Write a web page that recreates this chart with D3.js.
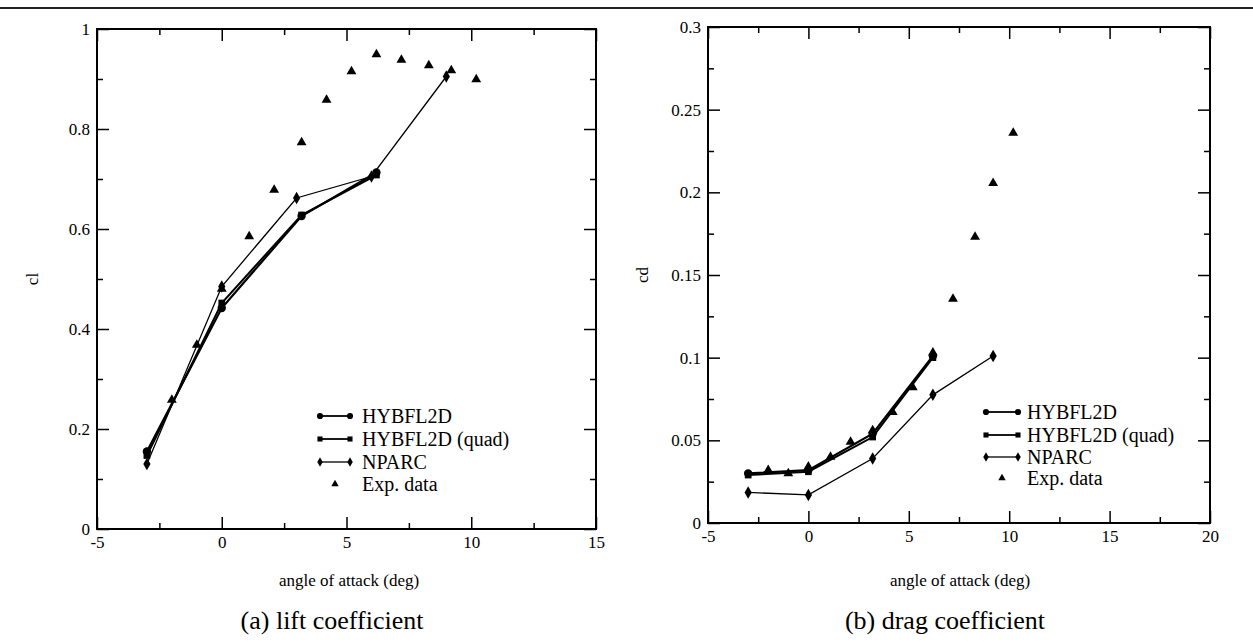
<!DOCTYPE html>
<html><head><meta charset="utf-8">
<script src="https://cdn.jsdelivr.net/npm/d3@7"></script>
<style>
body{margin:0;background:#fff;}
svg{display:block;}
text{font-family:"Liberation Serif","Times New Roman",Times,"DejaVu Serif",serif;fill:#000;}
</style>
</head><body>
<svg id="c" width="1253" height="644"></svg>
<script>
// ---------------- data ----------------
const seriesNames = ["HYBFL2D", "HYBFL2D (quad)", "NPARC", "Exp. data"];

const liftXTicks = [-5, 0, 5, 10, 15];
const liftXMinor = [-2.5, 2.5, 7.5, 12.5];
const liftYTicks = [0, 0.2, 0.4, 0.6, 0.8, 1];
const liftYMinor = [0.1, 0.3, 0.5, 0.7, 0.9];

const dragXTicks = [-5, 0, 5, 10, 15, 20];
const dragXMinor = [-2.5, 2.5, 7.5, 12.5, 17.5];
const dragYTicks = [0, 0.05, 0.1, 0.15, 0.2, 0.25, 0.3];
const dragYMinor = [0.025, 0.075, 0.125, 0.175, 0.225, 0.275];

const liftHybAoa  = [-3, 0, 3.2, 6.2];
const liftHybCl   = [0.155, 0.442, 0.626, 0.713];
const liftQuadAoa = [-3, 0, 3.2, 6.2];
const liftQuadCl  = [0.147, 0.452, 0.628, 0.708];
const liftNparcAoa = [-3, 0, 3, 6, 9];
const liftNparcCl  = [0.13, 0.485, 0.662, 0.705, 0.905];
const liftExpAoa = [-2, -1, 0, 1.1, 2.1, 3.2, 4.2, 5.2, 6.2, 7.2, 8.3, 9.2, 10.2];
const liftExpCl  = [0.258, 0.368, 0.48, 0.585, 0.678, 0.773, 0.858, 0.915, 0.949, 0.938, 0.927, 0.917, 0.899];

const dragHybAoa  = [-3, 0, 3.2, 6.2];
const dragHybCd   = [0.030, 0.032, 0.054, 0.101];
const dragQuadAoa = [-3, 0, 3.2, 6.2];
const dragQuadCd  = [0.029, 0.031, 0.052, 0.100];
const dragNparcAoa = [-3, 0, 3.2, 6.2, 9.2];
const dragNparcCd  = [0.0185, 0.017, 0.039, 0.0775, 0.101];
const dragExpAoa = [-2, -1, 0, 1.1, 2.1, 3.2, 4.2, 5.2, 6.2, 7.2, 8.3, 9.2, 10.2];
const dragExpCd  = [0.032, 0.030, 0.034, 0.040, 0.049, 0.056, 0.067, 0.082, 0.103, 0.1355, 0.173, 0.2055, 0.236];

// ---------------- drawing ----------------
const FONT = '"Liberation Serif","Times New Roman",Times,"DejaVu Serif",serif';
const svg = d3.select("#c").attr("font-family", FONT);
const zip = (a, b) => a.map((v, i) => [v, b[i]]);
const fmt = d => String(d);

svg.append("line").attr("x1", 0).attr("x2", 1253).attr("y1", 8).attr("y2", 8)
  .attr("stroke", "#222").attr("stroke-width", 2);

const styles = [
  {sym: d3.symbolCircle, size: 55, lw: 2.2, lsize: 30},
  {sym: d3.symbolSquare, size: 45, lw: 2.0, lsize: 26},
  {sym: d3.symbolDiamond, size: 45, lw: 1.3, lsize: 26},
  {sym: d3.symbolTriangle, size: 42, lw: 0, lsize: 24}
];

function panel(o) {
  const g = svg.append("g");
  const x = d3.scaleLinear().domain(o.xDomain).range(o.xRange);
  const y = d3.scaleLinear().domain(o.yDomain).range(o.yRange);
  const x0 = o.xRange[0], x1 = o.xRange[1], y0 = o.yRange[0], y1 = o.yRange[1];
  const MAJ = 12, MIN = 6;
  const clean = s => s.attr("font-family", FONT)
                      .call(a => a.select(".domain").remove())
                      .call(a => a.selectAll("line").attr("stroke", "#000").attr("stroke-width", 1.5));
  const lab = a => a.selectAll("text").attr("font-size", 17).attr("font-family", FONT);

  g.append("g").attr("transform", `translate(0,${y0})`)
    .call(d3.axisBottom(x).tickValues(o.xTicks).tickSize(-MAJ).tickPadding(7).tickFormat(fmt))
    .call(clean).call(lab);
  g.append("g").attr("transform", `translate(0,${y0})`)
    .call(d3.axisBottom(x).tickValues(o.xMinor).tickSize(-MIN).tickFormat("")).call(clean);
  g.append("g").attr("transform", `translate(0,${y1})`)
    .call(d3.axisTop(x).tickValues(o.xTicks).tickSize(-MAJ).tickFormat("")).call(clean);
  g.append("g").attr("transform", `translate(0,${y1})`)
    .call(d3.axisTop(x).tickValues(o.xMinor).tickSize(-MIN).tickFormat("")).call(clean);

  g.append("g").attr("transform", `translate(${x0},0)`)
    .call(d3.axisLeft(y).tickValues(o.yTicks).tickSize(-MAJ).tickPadding(7).tickFormat(fmt))
    .call(clean).call(lab);
  g.append("g").attr("transform", `translate(${x0},0)`)
    .call(d3.axisLeft(y).tickValues(o.yMinor).tickSize(-MIN).tickFormat("")).call(clean);
  g.append("g").attr("transform", `translate(${x1},0)`)
    .call(d3.axisRight(y).tickValues(o.yTicks).tickSize(-MAJ).tickFormat("")).call(clean);
  g.append("g").attr("transform", `translate(${x1},0)`)
    .call(d3.axisRight(y).tickValues(o.yMinor).tickSize(-MIN).tickFormat("")).call(clean);

  g.append("rect").attr("x", x0).attr("y", y1).attr("width", x1 - x0).attr("height", y0 - y1)
    .attr("fill", "none").attr("stroke", "#000").attr("stroke-width", 2);

  const line = d3.line().x(d => x(d[0])).y(d => y(d[1]));
  o.series.forEach((s, i) => {
    const st = styles[i];
    const pts = zip(s[0], s[1]);
    if (st.lw > 0) {
      g.append("path").datum(pts).attr("d", line).attr("fill", "none")
        .attr("stroke", "#000").attr("stroke-width", st.lw);
    }
    g.selectAll(null).data(pts).enter().append("path")
      .attr("transform", d => `translate(${x(d[0])},${y(d[1])})`)
      .attr("d", d3.symbol().type(st.sym).size(st.size)).attr("fill", "#000");
  });

  // legend
  const L = o.legend;
  seriesNames.forEach((name, i) => {
    const st = styles[i];
    const ly = L.rows[i];
    if (st.lw > 0) {
      g.append("line").attr("x1", L.x0).attr("x2", L.x1).attr("y1", ly).attr("y2", ly)
        .attr("stroke", "#000").attr("stroke-width", Math.min(st.lw, 1.8));
      [L.x0, L.x1].forEach(px => g.append("path").attr("transform", `translate(${px},${ly})`)
        .attr("d", d3.symbol().type(st.sym).size(st.lsize)).attr("fill", "#000"));
    } else {
      g.append("path").attr("transform", `translate(${(L.x0 + L.x1) / 2},${ly})`)
        .attr("d", d3.symbol().type(st.sym).size(st.lsize)).attr("fill", "#000");
    }
    g.append("text").attr("x", L.tx).attr("y", ly).attr("dy", "0.35em")
      .attr("font-size", 20).text(name);
  });

  // titles
  g.append("text").attr("x", o.xTitle[0]).attr("y", o.xTitle[1]).attr("text-anchor", "middle")
    .attr("font-size", 17).text("angle of attack (deg)");
  g.append("text").attr("transform", `translate(${o.yTitle[0]},${o.yTitle[1]}) rotate(-90)`)
    .attr("text-anchor", "middle").attr("font-size", 17).text(o.yLabel);
  g.append("text").attr("x", o.caption[0]).attr("y", o.caption[1]).attr("text-anchor", "middle")
    .attr("font-size", 26).text(o.captionText);
}

panel({
  xDomain: [-5, 15], xRange: [97, 596],
  yDomain: [0, 1], yRange: [529, 29],
  xTicks: liftXTicks, xMinor: liftXMinor, yTicks: liftYTicks, yMinor: liftYMinor,
  series: [[liftHybAoa, liftHybCl], [liftQuadAoa, liftQuadCl], [liftNparcAoa, liftNparcCl], [liftExpAoa, liftExpCl]],
  legend: {x0: 320, x1: 350, tx: 362, rows: [416, 439, 462, 484]},
  xTitle: [349, 586], yTitle: [38, 279], yLabel: "cl",
  caption: [332, 629], captionText: "(a) lift coefficient"
});

panel({
  xDomain: [-5, 20], xRange: [708, 1210],
  yDomain: [0, 0.3], yRange: [523, 27],
  xTicks: dragXTicks, xMinor: dragXMinor, yTicks: dragYTicks, yMinor: dragYMinor,
  series: [[dragHybAoa, dragHybCd], [dragQuadAoa, dragQuadCd], [dragNparcAoa, dragNparcCd], [dragExpAoa, dragExpCd]],
  legend: {x0: 986, x1: 1018, tx: 1027, rows: [412, 435, 457, 478]},
  xTitle: [960, 586], yTitle: [648, 275], yLabel: "cd",
  caption: [945, 629], captionText: "(b) drag coefficient"
});
</script>
</body></html>
